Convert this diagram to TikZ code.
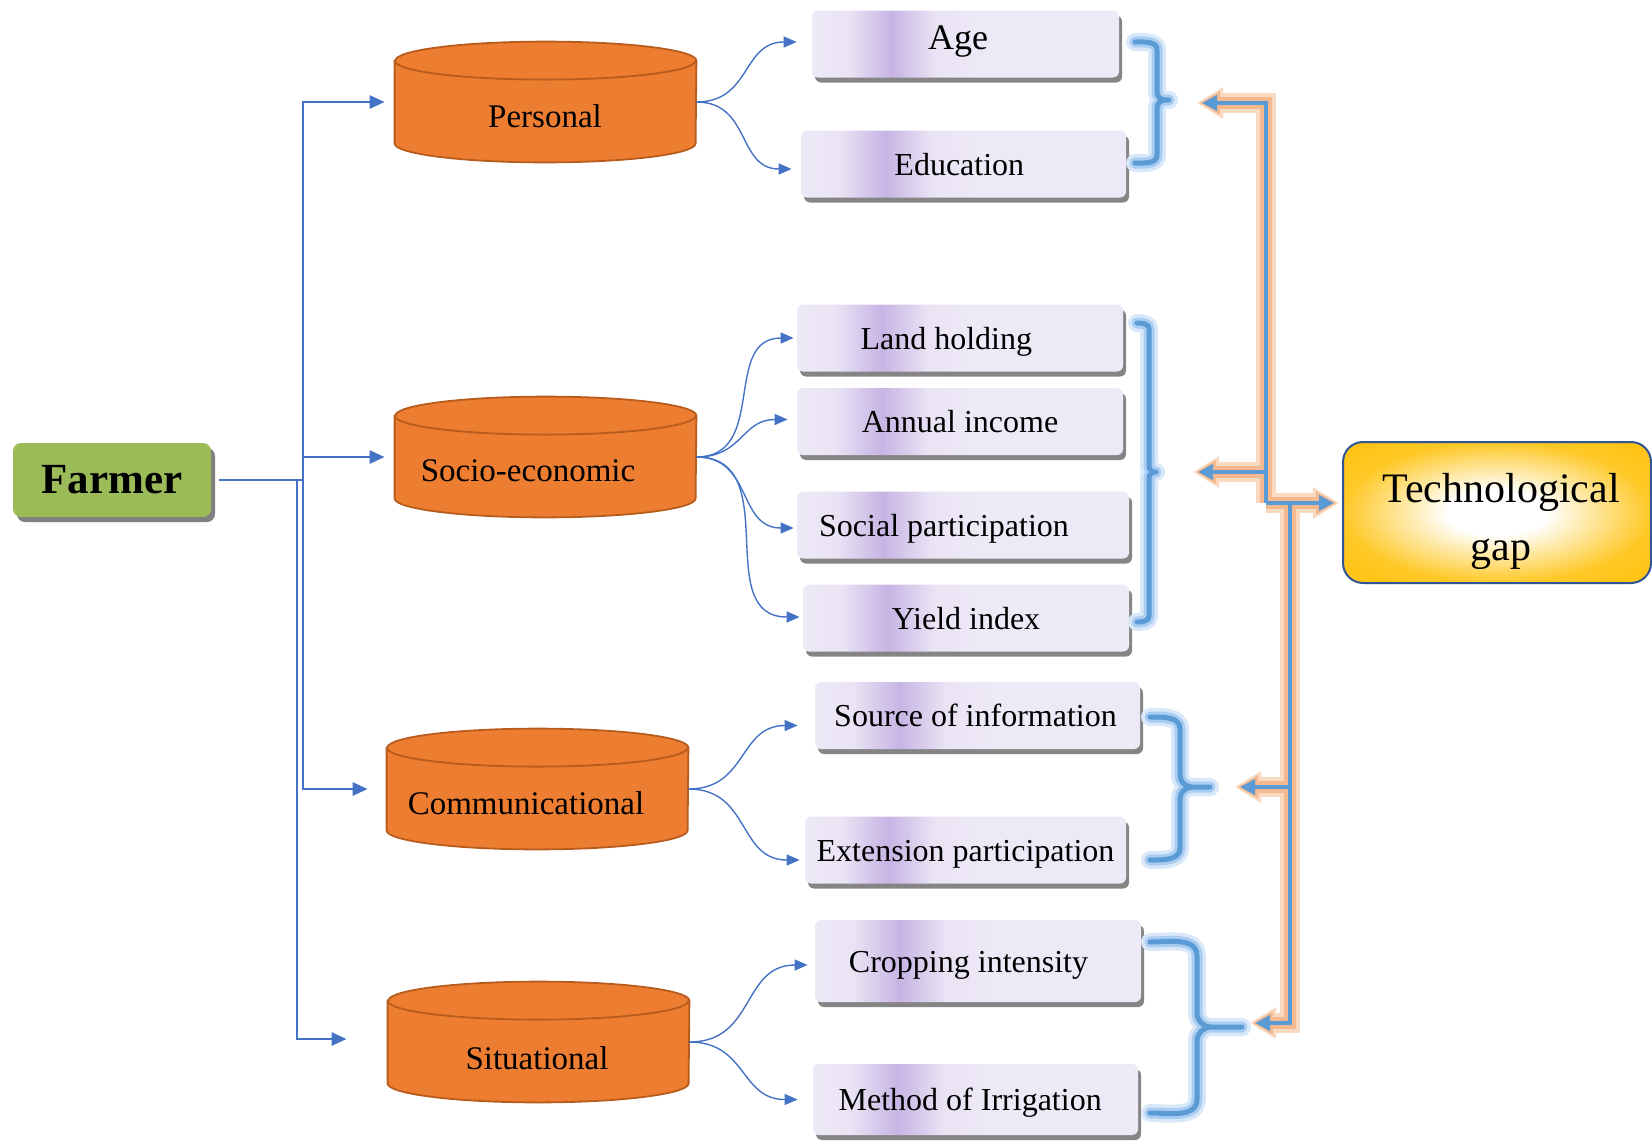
\documentclass[tikz,border=0pt]{standalone}
\usepackage{fontspec}
\setmainfont{Liberation Serif}
\usetikzlibrary{arrows.meta,shadows,calc}

\definecolor{farmgreen}{HTML}{9BBB59}
\definecolor{cylorange}{HTML}{ED7D31}
\definecolor{cylborder}{HTML}{B85C1E}
\definecolor{linkblue}{HTML}{4472C4}
\definecolor{skyblue}{HTML}{5B9BD5}
\definecolor{glowblue}{HTML}{A9CCF2}
\definecolor{gloworange}{HTML}{F6B98F}
\definecolor{lavL}{HTML}{E9E3F4}
\definecolor{lavD}{HTML}{C7B4E4}
\definecolor{lavM}{HTML}{EEE9F7}
\definecolor{gapgold}{HTML}{FFC20E}
\definecolor{gapborder}{HTML}{2F5597}

\pgfdeclarehorizontalshading{lavband}{100bp}{color(0bp)=(lavM); color(25bp)=(lavM); color(31bp)=(lavL); color(38bp)=(lavD); color(45bp)=(lavL); color(52bp)=(lavM); color(100bp)=(lavM)}
\pgfdeclareradialshading{gapglow}{\pgfpoint{0bp}{0bp}}{color(0bp)=(white); color(8bp)=(white); color(25bp)=(gapgold!90!white); color(35bp)=(gapgold); color(50bp)=(gapgold)}

\begin{document}
\begin{tikzpicture}[x=0.5pt,y=-0.5pt,
  farmerbox/.style={rectangle, rounded corners=4pt, fill=farmgreen, minimum width=99pt, minimum height=37pt,
    font=\fontsize{21.5}{26}\selectfont\bfseries,
    drop shadow={shadow xshift=2pt, shadow yshift=-2.5pt, opacity=1, fill=black!50}},
  cylnode/.style={minimum width=150.5pt, minimum height=60pt, inner sep=0pt},
  cylbody/.style={fill=cylorange, draw=cylborder, line width=0.9pt},
  cyltext/.style={font=\fontsize{16.5}{20}\selectfont},
  lavbox/.style={rectangle, rounded corners=3pt, shading=lavband, minimum height=33.5pt, inner sep=2pt,
    text height=14pt, text depth=2.6pt, font=\fontsize{16}{19}\selectfont,
    drop shadow={shadow xshift=1.5pt, shadow yshift=-2.5pt, opacity=1, fill=black!48}},
  gapbox/.style={rectangle, rounded corners=10pt, draw=gapborder, line width=1pt, shading=gapglow,
    minimum width=154pt, minimum height=70.5pt},
  gaptext/.style={align=center, font=\fontsize{21}{29}\selectfont},
  trunk/.style={draw=linkblue, line width=1.4pt, -{Triangle[length=7.5pt,width=6.5pt]}},
  twig/.style={draw=linkblue, line width=0.7pt, looseness=1.2, -{Triangle[length=6.5pt,width=5.5pt]}},
  rimhalo/.style={draw=gloworange!55, line width=10pt, shorten >=-2.5pt, -{Triangle[length=13pt,width=15pt]}},
  rimglow/.style={draw=gloworange, line width=6pt, shorten >=-1pt, -{Triangle[length=10pt,width=11pt]}},
  rimcore/.style={draw=skyblue, line width=2pt, -{Triangle[length=7.5pt,width=7.5pt]}},
  bracehalo/.style={draw=glowblue!45, line width=9pt, line cap=round},
  braceglow/.style={draw=glowblue, line width=5.5pt, line cap=round},
  bracecore/.style={draw=skyblue, line width=2.5pt, line cap=round}]

\useasboundingbox (0,0) rectangle (1652,1141);

\node[farmerbox] (farmer) at (112,480) {Farmer};

\node[cylnode] (pers) at (545.5,102) {};
\node[cylnode] (soc) at (545.5,457) {};
\node[cylnode] (comm) at (537.5,789) {};
\node[cylnode] (sit) at (538.5,1042) {};
\foreach \n in {pers,soc,comm,sit}{
  \path[cylbody] ([yshift=-9.5pt]\n.north west) -- ([yshift=9.5pt]\n.south west)
    arc[start angle=180, end angle=360, x radius=75.25pt, y radius=9.5pt]
    -- ([yshift=-9.5pt]\n.north east)
    arc[start angle=0, end angle=180, x radius=75.25pt, y radius=9.5pt] -- cycle;
  \draw[cylborder, line width=0.9pt] ([yshift=-9.5pt]\n.north west)
    arc[start angle=180, end angle=360, x radius=75.25pt, y radius=9.5pt];
}
\node[cyltext] (perslab) at (545,116) {Personal};
\node[cyltext] (soclab) at (528,471) {Socio-economic};
\node[cyltext] (commlab) at (526,803) {Communicational};
\node[cyltext] (sitlab) at (537,1058) {Situational};

\coordinate (spine) at (303,0);
\coordinate (spinelow) at (297,0);
\draw[trunk,-] ([xshift=4pt]farmer.east) -- (spine |- farmer.east);
\draw[trunk] (spine |- farmer.east) |- ([xshift=-5pt]pers.west);
\draw[trunk] (spine |- soc.west) -- ([xshift=-5pt]soc.west);
\draw[trunk] (spine |- farmer.east) |- ([xshift=-9.5pt]comm.west);
\draw[trunk] (spinelow |- farmer.east) |- ([xshift=-20.5pt,yshift=1.5pt]sit.west);

\node[lavbox, minimum width=153.5pt, text height=11pt, text depth=5.6pt, font=\fontsize{18}{21}\selectfont] (age) at (965.5,44) {Age\hspace*{7.4pt}};
\node[lavbox, minimum width=162.5pt] (edu) at (963.5,164) {Education\hspace*{4.2pt}};
\node[lavbox, minimum width=163pt] (land) at (960,338) {Land holding\hspace*{13.7pt}};
\node[lavbox, minimum width=163pt] (inc) at (960,421.5) {Annual income};
\node[lavbox, minimum width=166pt] (socp) at (963,525) {Social participation\hspace*{19pt}};
\node[lavbox, minimum width=163pt] (yield) at (966,618) {Yield index};
\node[lavbox, minimum width=162.5pt] (src) at (977.5,715.5) {Source of information\hspace*{2pt}};
\node[lavbox, minimum width=160.5pt] (ext) at (965.5,850) {Extension participation};
\node[lavbox, minimum width=163pt, minimum height=41pt] (crop) at (978,961) {Cropping intensity\hspace*{9.5pt}};
\node[lavbox, minimum width=162.5pt, minimum height=35.5pt] (meth) at (975.5,1099.5) {Method of Irrigation\hspace*{5.3pt}};

\foreach \src/\dst/\dx/\dy in {pers/age/-7.5/1, pers/edu/-4.5/-2.5, soc/land/-1.5/0, soc/inc/-4.5/1,
    soc/socp/-1.5/-1.5, soc/yield/-1.5/0.5, comm/src/-8.5/-5, comm/ext/-2.5/-5,
    sit/crop/-3.5/-2, sit/meth/-7.5/0}
  \draw[twig] (\src.east) to[out=0,in=180] ([xshift=\dx pt,yshift=\dy pt]\dst.west);

\foreach \xa/\xv/\xt/\yt/\ym/\yb/\r/\nm in {1135/1157/1169/42/100/163/8/btipA, 1137/1149/1156/323/472/622/6/btipB,
    1150/1180/1210/717/787/860/12/btipC, 1150/1197/1242/942/1027/1113/14/btipD}
  \coordinate (\nm) at (\xt,\ym);
\foreach \lay in {bracehalo,braceglow,bracecore}{
  \foreach \xa/\xv/\xt/\yt/\ym/\yb/\r in {1135/1157/1169/42/100/163/8, 1137/1149/1156/323/472/622/6,
      1150/1180/1210/717/787/860/12, 1150/1197/1242/942/1027/1113/14}
    \draw[\lay] (\xa,\yt) to[out=0,in=90] (\xv,{\yt+\r}) -- (\xv,{\ym-\r}) to[out=-90,in=180] ({\xv+\r},\ym) -- (\xt,\ym)
      ({\xv+\r},\ym) to[out=180,in=90] (\xv,{\ym+\r}) -- (\xv,{\yb-\r}) to[out=-90,in=0] (\xa,\yb);
}

\node[gapbox] (tg) at (1497,512.5) {};
\node[gaptext] (tglab) at (1501,521) {Technological\\gap};

\coordinate (rimA) at (1266,503);
\coordinate (rimB) at (1290,503);
\foreach \lay in {rimhalo,rimglow,rimcore}{
  \draw[\lay] (rimA) |- ([xshift=16.5pt,yshift=-1.5pt]btipA);
  \draw[\lay] (rimA |- btipB) -- ([xshift=21pt]btipB);
  \draw[\lay] (rimA) -- ([xshift=-4pt,yshift=4.75pt]tg.west);
  \draw[\lay] (rimB) |- ([xshift=6.5pt,yshift=2pt]btipD);
  \draw[\lay] (rimB |- btipC) -- ([xshift=15pt]btipC);
}
\end{tikzpicture}
\end{document}
